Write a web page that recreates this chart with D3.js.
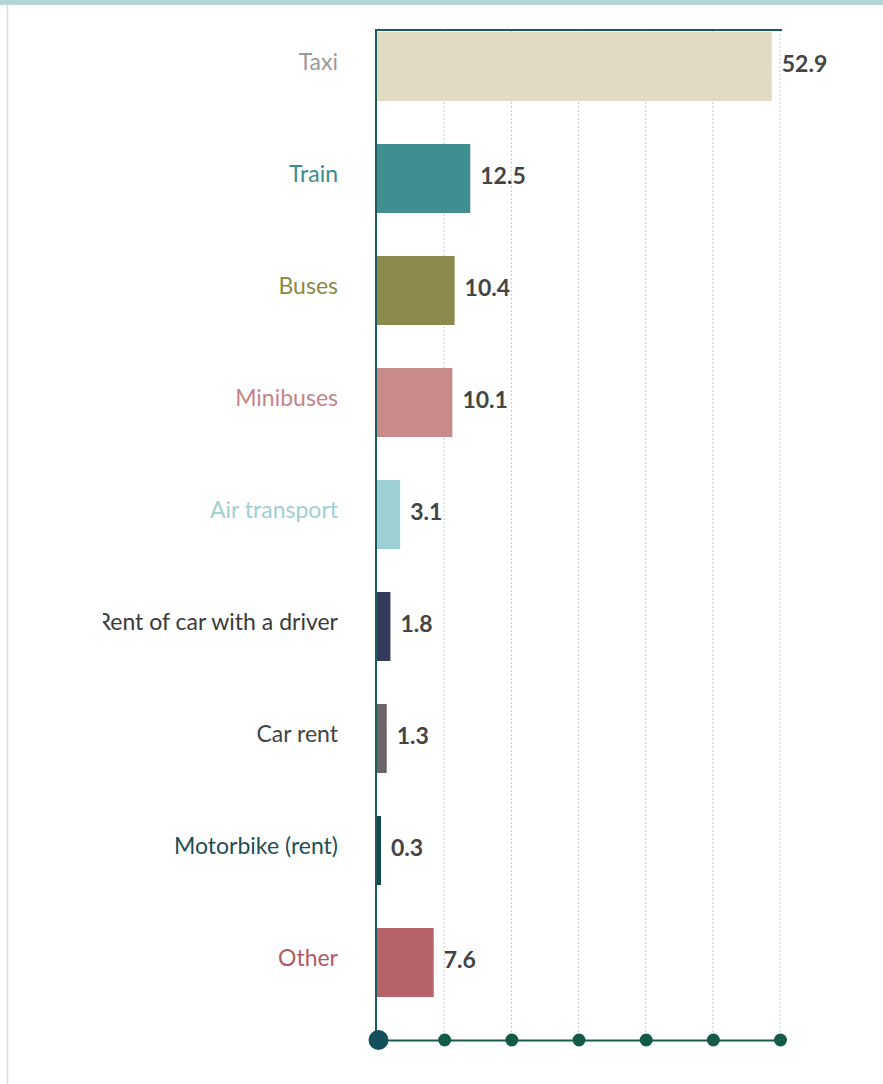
<!DOCTYPE html>
<html>
<head>
<meta charset="utf-8">
<script src="https://cdn.jsdelivr.net/npm/d3@7"></script>
<style>
  html, body { margin: 0; padding: 0; background: #fff; }
  #chart { width: 883px; height: 1084px; }
</style>
</head>
<body>
<div id="chart"></div>
<script>
const categories = ['Taxi', 'Train', 'Buses', 'Minibuses', 'Air transport',
  'Rent of car with a driver', 'Car rent', 'Motorbike (rent)', 'Other'];
const values = [52.9, 12.5, 10.4, 10.1, 3.1, 1.8, 1.3, 0.3, 7.6];
const barColors = ['#e2dbc3', '#3f8f91', '#8b8a4c', '#c98a8b', '#9dd0d5',
  '#363a5c', '#6e6468', '#154a4f', '#b7636a'];
const labelColors = ['#9a9a9a', '#3b8b8e', '#8a8a3e', '#c4848a', '#9ed0d3',
  '#3a3a3a', '#444444', '#1e4f55', '#b05a62'];
const xTicks = [0, 9, 18, 27, 36, 45, 54];

const data = categories.map((c, i) => ({ name: c, value: values[i], bar: barColors[i], label: labelColors[i] }));

const svg = d3.select('#chart')
  .append('svg')
    .attr('width', 883)
    .attr('height', 1084);

// page frame: top band and left border
svg.append('rect')
    .attr('x', 0).attr('y', 0)
    .attr('width', 883).attr('height', 5)
    .attr('fill', '#b3d6d2');
svg.append('line')
    .attr('x1', 7.5).attr('x2', 7.5)
    .attr('y1', 5).attr('y2', 1084)
    .attr('stroke', '#dcdcdc')
    .attr('stroke-width', 1.5);

const plotLeft = 377, plotRight = 780, plotTop = 30, plotBottom = 1040;

const x = d3.scaleLinear()
    .domain([0, 54])
    .range([plotLeft, plotRight]);

const y = d3.scaleBand()
    .domain(categories)
    .range([32, 997])
    .paddingInner(0.384)
    .paddingOuter(0);

const barW = d => Math.max(4, x(d.value) - x(0));

// grid
svg.append('g')
  .selectAll('line')
  .data(xTicks.slice(1))
  .join('line')
    .attr('x1', d => x(d)).attr('x2', d => x(d))
    .attr('y1', plotTop).attr('y2', plotBottom)
    .attr('stroke', '#c8c8c8')
    .attr('stroke-width', 1)
    .attr('stroke-dasharray', '2,2');

// bars
svg.append('g')
  .selectAll('rect')
  .data(data)
  .join('rect')
    .attr('x', x(0))
    .attr('y', d => y(d.name))
    .attr('width', barW)
    .attr('height', y.bandwidth())
    .attr('fill', d => d.bar);

// value labels
svg.append('g')
  .selectAll('text')
  .data(data)
  .join('text')
    .attr('x', d => x(0) + barW(d) + 10)
    .attr('y', d => y(d.name) + y.bandwidth() / 2)
    .attr('dy', '0.25em')
    .attr('font-family', 'Lato, sans-serif')
    .attr('font-weight', 'bold')
    .attr('font-size', '23px')
    .attr('fill', '#444')
    .text(d => d.value.toFixed(1));

// category labels, clipped on the left like the original
svg.append('clipPath')
    .attr('id', 'labclip')
  .append('rect')
    .attr('x', 103).attr('y', 0)
    .attr('width', 300).attr('height', 1084);

svg.append('g')
    .attr('clip-path', 'url(#labclip)')
  .selectAll('text')
  .data(data)
  .join('text')
    .attr('x', 338)
    .attr('y', d => y(d.name) + y.bandwidth() / 2)
    .attr('dy', '0.15em')
    .attr('text-anchor', 'end')
    .attr('font-family', 'Lato, sans-serif')
    .attr('font-size', '23px')
    .attr('fill', d => d.label)
    .text(d => d.name);

// frame lines
svg.append('line')
    .attr('x1', plotLeft - 1).attr('x2', plotRight + 2)
    .attr('y1', plotTop).attr('y2', plotTop)
    .attr('stroke', '#1d5a5e')
    .attr('stroke-width', 2);
svg.append('line')
    .attr('x1', plotLeft - 1).attr('x2', plotLeft - 1)
    .attr('y1', plotTop - 1).attr('y2', plotBottom)
    .attr('stroke', '#1b5c5c')
    .attr('stroke-width', 2);

// bottom axis with dots
const axis = svg.append('g')
    .attr('transform', `translate(0,${plotBottom})`)
    .call(d3.axisBottom(x).tickValues(xTicks).tickSize(0).tickFormat(''));
axis.select('.domain')
    .attr('stroke', '#1a5c4a')
    .attr('stroke-width', 2);
axis.selectAll('.tick')
  .append('circle')
    .attr('r', (d, i) => i === 0 ? 10 : 6.5)
    .attr('cx', (d, i) => i === 0 ? 1 : 0)
    .attr('fill', (d, i) => i === 0 ? '#134f5c' : '#135b48');
</script>
</body>
</html>
